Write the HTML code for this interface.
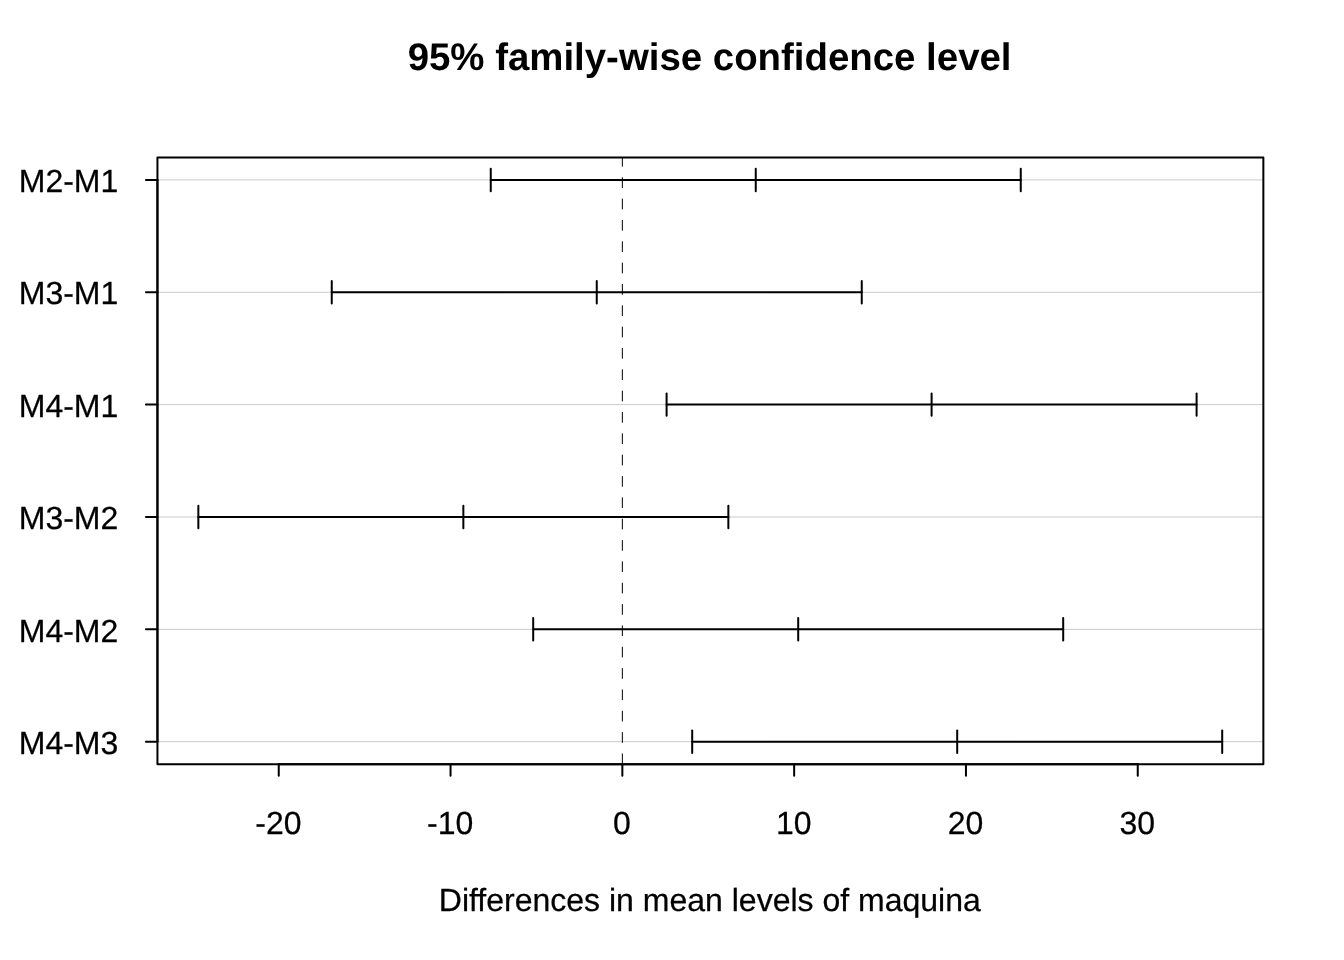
<!DOCTYPE html>
<html><head><meta charset="utf-8"><title>TukeyHSD</title>
<style>
html,body{margin:0;padding:0;background:#fff;}
body{width:1344px;height:960px;overflow:hidden;}
svg{display:block;will-change:transform;font-family:"Liberation Sans",sans-serif;}
text{fill:#000;text-rendering:geometricPrecision;font-variant-ligatures:none;}
</style></head><body>
<svg width="1344" height="960" viewBox="0 0 1344 960">

<g stroke="#cbcbcb" stroke-width="1" fill="none">
<line x1="157.44" y1="179.91" x2="1263.36" y2="179.91"/>
<line x1="157.44" y1="292.27" x2="1263.36" y2="292.27"/>
<line x1="157.44" y1="404.62" x2="1263.36" y2="404.62"/>
<line x1="157.44" y1="516.98" x2="1263.36" y2="516.98"/>
<line x1="157.44" y1="629.33" x2="1263.36" y2="629.33"/>
<line x1="157.44" y1="741.69" x2="1263.36" y2="741.69"/>
</g>
<line x1="622.35" y1="764.16" x2="622.35" y2="157.44" stroke="#000" stroke-width="1" stroke-dasharray="10.67 10.67"/>
<g stroke="#000" stroke-width="2" stroke-linecap="round" fill="none">
<line x1="490.75" y1="179.91" x2="1020.75" y2="179.91"/>
<line x1="490.75" y1="168.67" x2="490.75" y2="191.15"/>
<line x1="755.75" y1="168.67" x2="755.75" y2="191.15"/>
<line x1="1020.75" y1="168.67" x2="1020.75" y2="191.15"/>
<line x1="331.75" y1="292.27" x2="861.75" y2="292.27"/>
<line x1="331.75" y1="281.03" x2="331.75" y2="303.51"/>
<line x1="596.75" y1="281.03" x2="596.75" y2="303.51"/>
<line x1="861.75" y1="281.03" x2="861.75" y2="303.51"/>
<line x1="666.60" y1="404.62" x2="1196.60" y2="404.62"/>
<line x1="666.60" y1="393.38" x2="666.60" y2="415.86"/>
<line x1="931.60" y1="393.38" x2="931.60" y2="415.86"/>
<line x1="1196.60" y1="393.38" x2="1196.60" y2="415.86"/>
<line x1="198.35" y1="516.98" x2="728.35" y2="516.98"/>
<line x1="198.35" y1="505.74" x2="198.35" y2="528.22"/>
<line x1="463.35" y1="505.74" x2="463.35" y2="528.22"/>
<line x1="728.35" y1="505.74" x2="728.35" y2="528.22"/>
<line x1="533.20" y1="629.33" x2="1063.20" y2="629.33"/>
<line x1="533.20" y1="618.09" x2="533.20" y2="640.57"/>
<line x1="798.20" y1="618.09" x2="798.20" y2="640.57"/>
<line x1="1063.20" y1="618.09" x2="1063.20" y2="640.57"/>
<line x1="692.20" y1="741.69" x2="1222.20" y2="741.69"/>
<line x1="692.20" y1="730.45" x2="692.20" y2="752.93"/>
<line x1="957.20" y1="730.45" x2="957.20" y2="752.93"/>
<line x1="1222.20" y1="730.45" x2="1222.20" y2="752.93"/>
</g>
<g stroke="#000" stroke-width="2" stroke-linecap="round" fill="none">
<line x1="278.75" y1="764.16" x2="1137.75" y2="764.16"/>
<line x1="278.75" y1="764.16" x2="278.75" y2="775.66"/>
<line x1="450.55" y1="764.16" x2="450.55" y2="775.66"/>
<line x1="622.35" y1="764.16" x2="622.35" y2="775.66"/>
<line x1="794.15" y1="764.16" x2="794.15" y2="775.66"/>
<line x1="965.95" y1="764.16" x2="965.95" y2="775.66"/>
<line x1="1137.75" y1="764.16" x2="1137.75" y2="775.66"/>
<line x1="157.44" y1="179.91" x2="157.44" y2="741.69"/>
<line x1="157.44" y1="179.91" x2="145.94" y2="179.91"/>
<line x1="157.44" y1="292.27" x2="145.94" y2="292.27"/>
<line x1="157.44" y1="404.62" x2="145.94" y2="404.62"/>
<line x1="157.44" y1="516.98" x2="145.94" y2="516.98"/>
<line x1="157.44" y1="629.33" x2="145.94" y2="629.33"/>
<line x1="157.44" y1="741.69" x2="145.94" y2="741.69"/>
<rect x="157.44" y="157.44" width="1105.92" height="606.72" stroke-linejoin="round"/>
</g>
<g>
<g font-size="32px" stroke="#000" stroke-width="0.25" stroke-linejoin="round">
<text x="278.35" y="833.75" text-anchor="middle">-20</text>
<text x="450.15" y="833.75" text-anchor="middle">-10</text>
<text x="621.95" y="833.75" text-anchor="middle">0</text>
<text x="793.75" y="833.75" text-anchor="middle">10</text>
<text x="965.55" y="833.75" text-anchor="middle">20</text>
<text x="1137.35" y="833.75" text-anchor="middle">30</text>
<text x="18.75" y="192.11">M2-M1</text>
<text x="18.75" y="304.47">M3-M1</text>
<text x="18.75" y="416.82">M4-M1</text>
<text x="18.75" y="529.18">M3-M2</text>
<text x="18.75" y="641.53">M4-M2</text>
<text x="18.75" y="753.89">M4-M3</text>
<text x="709.8" y="910.75" text-anchor="middle">Differences in mean levels of maquina</text>
</g>
<text x="709.6" y="70" text-anchor="middle" font-size="38.4px" font-weight="bold">95% family-wise confidence level</text>
</g>
</svg></body></html>
